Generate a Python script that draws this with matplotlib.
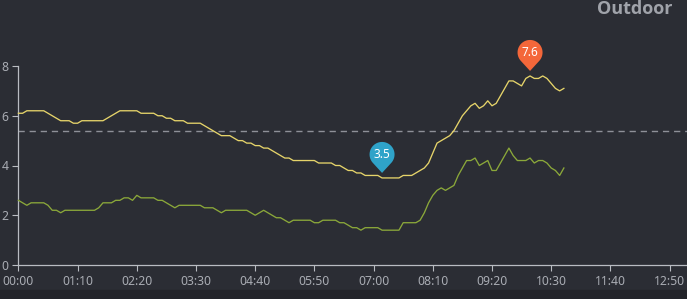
import numpy as np
import matplotlib
matplotlib.use("Agg")
import matplotlib.pyplot as plt
from matplotlib.path import Path
from matplotlib.patches import PathPatch
import matplotlib.transforms as mtransforms

# ---- data (5-minute samples starting 00:00) ----
yellow = [
    6.1, 6.1, 6.2, 6.2, 6.2, 6.2, 6.2, 6.1, 6.0, 5.9,
    5.8, 5.8, 5.8, 5.7, 5.7, 5.8, 5.8, 5.8, 5.8, 5.8,
    5.8, 5.9, 6.0, 6.1, 6.2, 6.2, 6.2, 6.2, 6.2, 6.1,
    6.1, 6.1, 6.1, 6.0, 6.0, 5.9, 5.9, 5.8, 5.8, 5.8,
    5.7, 5.7, 5.7, 5.7, 5.6, 5.5, 5.4, 5.3, 5.2, 5.2,
    5.2, 5.1, 5.0, 5.0, 4.9, 4.9, 4.8, 4.8, 4.7, 4.7,
    4.6, 4.5, 4.4, 4.3, 4.3, 4.2, 4.2, 4.2, 4.2, 4.2,
    4.2, 4.1, 4.1, 4.1, 4.1, 4.0, 4.0, 3.9, 3.8, 3.8,
    3.7, 3.7, 3.6, 3.6, 3.6, 3.6, 3.5, 3.5, 3.5, 3.5,
    3.5, 3.6, 3.6, 3.6, 3.7, 3.8, 3.9, 4.1, 4.5, 4.9,
    5.0, 5.1, 5.2, 5.4, 5.7, 6.0, 6.2, 6.4, 6.5, 6.3,
    6.4, 6.6, 6.4, 6.5, 6.8, 7.1, 7.4, 7.4, 7.3, 7.2,
    7.5, 7.6, 7.5, 7.5, 7.6, 7.5, 7.3, 7.1, 7.0, 7.1,
]
green = [
    2.6, 2.5, 2.4, 2.5, 2.5, 2.5, 2.5, 2.4, 2.2, 2.2,
    2.1, 2.2, 2.2, 2.2, 2.2, 2.2, 2.2, 2.2, 2.2, 2.3,
    2.5, 2.5, 2.5, 2.6, 2.6, 2.7, 2.7, 2.6, 2.8, 2.7,
    2.7, 2.7, 2.7, 2.6, 2.6, 2.5, 2.4, 2.3, 2.4, 2.4,
    2.4, 2.4, 2.4, 2.4, 2.3, 2.3, 2.3, 2.2, 2.1, 2.2,
    2.2, 2.2, 2.2, 2.2, 2.2, 2.1, 2.0, 2.1, 2.2, 2.1,
    2.0, 1.9, 1.9, 1.8, 1.7, 1.8, 1.8, 1.8, 1.8, 1.8,
    1.7, 1.7, 1.8, 1.8, 1.8, 1.8, 1.7, 1.7, 1.6, 1.5,
    1.5, 1.4, 1.5, 1.5, 1.5, 1.5, 1.4, 1.4, 1.4, 1.4,
    1.4, 1.7, 1.7, 1.7, 1.7, 1.8, 2.1, 2.5, 2.8, 3.0,
    3.1, 3.0, 3.1, 3.2, 3.6, 3.9, 4.2, 4.2, 4.3, 4.0,
    4.1, 4.2, 3.8, 3.8, 4.1, 4.4, 4.7, 4.4, 4.2, 4.2,
    4.2, 4.3, 4.1, 4.2, 4.2, 4.1, 3.9, 3.8, 3.6, 3.9,
]
step_minutes = 5
tick_minutes = [0, 70, 140, 210, 280, 350, 420, 490, 560, 630, 700, 770]
tick_labels = ["00:00", "01:10", "02:20", "03:30", "04:40", "05:50",
               "07:00", "08:10", "09:20", "10:30", "11:40", "12:50"]
y_ticks = [0, 2, 4, 6, 8]
title = "Outdoor"

times = np.arange(len(yellow)) * step_minutes

BG = "#2b2d34"
YEL = "#e6d46a"
GRN = "#8ba83a"
AX = "#b9bcc2"
TXT = "#a9acb3"

W, H = 687, 299
DPI = 100
fig = plt.figure(figsize=(W / DPI, H / DPI), dpi=DPI)
fig.patch.set_facecolor(BG)
# darker bottom strip
fig.add_artist(plt.Rectangle((0, 0), 1, 9 / H, transform=fig.transFigure,
                             color="#222329", zorder=0))

left = 18.4 / W
bottom = (H - 265) / H
top = (H - 66) / H
ax = fig.add_axes([left, bottom, 1 - left, top - bottom])
ax.set_facecolor(BG)
ax.set_xlim(0, (W - 18.4) / 0.8457)
ax.set_ylim(0, 8)

for s in ["top", "right"]:
    ax.spines[s].set_visible(False)
for s in ["left", "bottom"]:
    ax.spines[s].set_color(AX)
    ax.spines[s].set_linewidth(0.9)

ax.set_xticks(tick_minutes)
ax.set_xticklabels(tick_labels)
ax.set_yticks(y_ticks)
ax.tick_params(colors=AX, labelcolor=TXT, length=4, width=0.8,
               labelsize=8.8, pad=3)
for lab in ax.get_xticklabels() + ax.get_yticklabels():
    lab.set_family("Noto Sans")

ax.plot(times, yellow, color=YEL, lw=0.95, zorder=3, clip_on=False)
ax.plot(times, green, color=GRN, lw=0.95, zorder=3, clip_on=False)

avg = float(np.mean(yellow))
ax.axhline(avg, color="#8e9098", lw=1.0, ls=(0, (4.5, 3.5)), zorder=2)

# pin shape in pixel units: tip at (0,0), circle radius r centred c above tip
r_px = 12.5
c_px = 18.5
tip_gap = 5.0
ang = np.arccos(r_px / c_px)
arc = np.linspace(-np.pi / 2 + ang, 3 * np.pi / 2 - ang, 60)
verts = [(0, tip_gap)] + [(r_px * np.cos(a), tip_gap + c_px + r_px * np.sin(a)) for a in arc] + [(0, tip_gap)]
codes = [Path.MOVETO] + [Path.LINETO] * (len(verts) - 2) + [Path.CLOSEPOLY]
pin_path = Path(np.array(verts) / DPI, codes)  # inches


def pin(x, y, color, text):
    trans = fig.dpi_scale_trans + mtransforms.ScaledTranslation(x, y, ax.transData)
    patch = PathPatch(pin_path, facecolor=color, edgecolor="none", transform=trans,
                      zorder=5, clip_on=False)
    ax.add_artist(patch)
    ax.annotate(text, (x, y), xytext=(0, (tip_gap + c_px) * 72 / DPI),
                textcoords="offset points", ha="center", va="center",
                color="white", fontsize=8.5, family="Noto Sans", zorder=6,
                annotation_clip=False)


imax = int(np.argmax(yellow))
imin = int(np.argmin(yellow))
pin(times[imax], yellow[imax], "#f4673a", f"{yellow[imax]:.1f}")
pin(times[imin], yellow[imin], "#2fa3c9", f"{yellow[imin]:.1f}")

fig.text(672 / W, 1 - 9 / H, title, ha="right", va="center", color="#a0a3aa",
         fontsize=13, fontweight="bold", family="Open Sans")

fig.savefig("out.png", dpi=DPI, facecolor=BG)
